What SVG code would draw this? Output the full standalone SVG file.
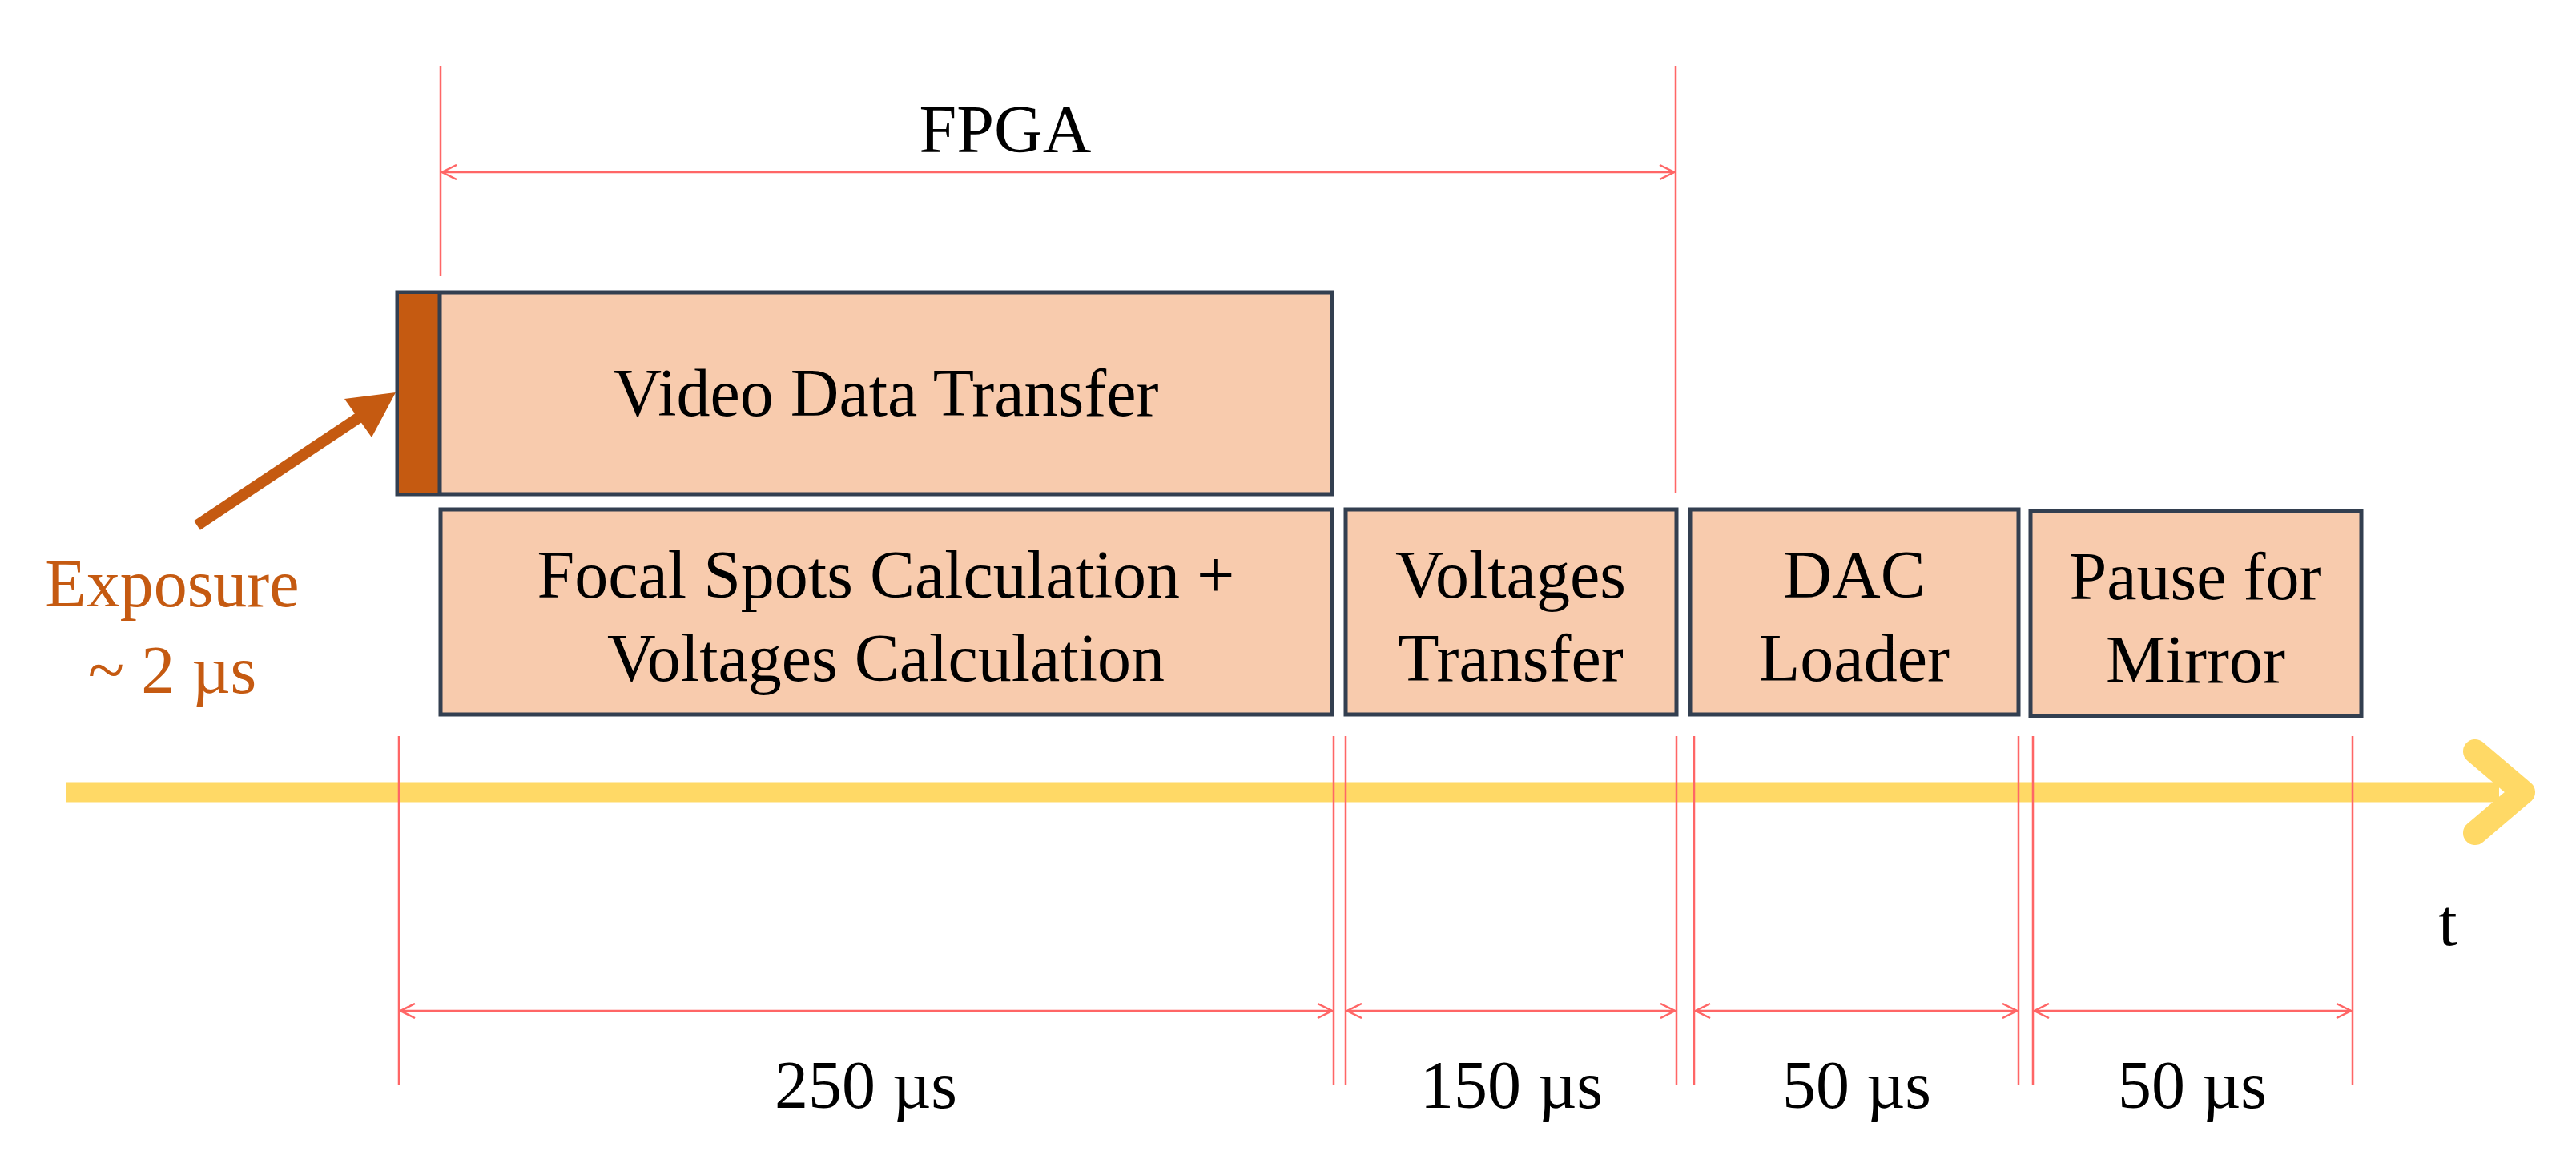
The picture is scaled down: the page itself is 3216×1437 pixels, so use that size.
<svg xmlns="http://www.w3.org/2000/svg" width="3216" height="1437" viewBox="0 0 3216 1437">
<style>
.box{fill:#F8CBAD;stroke:#333F50;stroke-width:5}
.red{stroke:#FF6666;stroke-width:2.5;fill:none}
.t{font-family:"Liberation Serif",serif;font-size:84px;fill:#000;text-anchor:middle}
</style>
<defs>
<marker id="oa" viewBox="0 0 20 20" refX="19" refY="10" markerWidth="20" markerHeight="20" markerUnits="userSpaceOnUse" orient="auto-start-reverse"><path d="M1,1 L19,10 L1,19" fill="none" stroke="#FF6666" stroke-width="2.5"/></marker>
</defs>
<rect width="3216" height="1437" fill="#fff"/>
<g id="axis">
<line x1="82" y1="989" x2="3120" y2="989" stroke="#FFD966" stroke-width="25"/>
<path d="M3090,938 L3150,989 L3090,1040" fill="none" stroke="#FFD966" stroke-width="30" stroke-linecap="round" stroke-linejoin="round"/>
<text class="t" x="3056" y="1180" font-size="110">t</text>
</g>
<g id="connectors">
<line class="red" x1="550" y1="82" x2="550" y2="345"/>
<line class="red" x1="2092" y1="82" x2="2092" y2="615"/>
<line class="red" x1="552" y1="215" x2="2090" y2="215" marker-start="url(#oa)" marker-end="url(#oa)"/>
<g>
<line class="red" x1="498" y1="919" x2="498" y2="1354"/>
<line class="red" x1="1665" y1="919" x2="1665" y2="1354"/>
<line class="red" x1="1680" y1="919" x2="1680" y2="1354"/>
<line class="red" x1="2093" y1="919" x2="2093" y2="1354"/>
<line class="red" x1="2115" y1="919" x2="2115" y2="1354"/>
<line class="red" x1="2520" y1="919" x2="2520" y2="1354"/>
<line class="red" x1="2538" y1="919" x2="2538" y2="1354"/>
<line class="red" x1="2937" y1="919" x2="2937" y2="1354"/>
</g>
<line class="red" x1="500" y1="1262" x2="1663" y2="1262" marker-start="url(#oa)" marker-end="url(#oa)"/>
<line class="red" x1="1682" y1="1262" x2="2091" y2="1262" marker-start="url(#oa)" marker-end="url(#oa)"/>
<line class="red" x1="2117" y1="1262" x2="2518" y2="1262" marker-start="url(#oa)" marker-end="url(#oa)"/>
<line class="red" x1="2540" y1="1262" x2="2935" y2="1262" marker-start="url(#oa)" marker-end="url(#oa)"/>
<line x1="246" y1="656" x2="462" y2="512" stroke="#C55A11" stroke-width="14"/>
<path d="M494,490 L430,498 L464,546 Z" fill="#C55A11"/>
</g>
<text class="t" x="1255" y="190">FPGA</text>
<g id="video">
<rect class="box" x="496" y="365" width="1167" height="252"/>
<rect x="498" y="367" width="50" height="248" fill="#C55A11"/>
<line x1="549" y1="365" x2="549" y2="617" stroke="#333F50" stroke-width="5"/>
<text class="t" x="1106" y="519">Video Data Transfer</text>
</g>
<g id="focal">
<rect class="box" x="550" y="636" width="1113" height="256"/>
<text class="t" x="1106" y="746">Focal Spots Calculation +</text>
<text class="t" x="1106" y="850">Voltages Calculation</text>
</g>
<g id="vtransfer">
<rect class="box" x="1680" y="636" width="413" height="256"/>
<text class="t" x="1886" y="746">Voltages</text>
<text class="t" x="1886" y="850">Transfer</text>
</g>
<g id="dac">
<rect class="box" x="2110" y="636" width="410" height="256"/>
<text class="t" x="2315" y="746">DAC</text>
<text class="t" x="2315" y="850">Loader</text>
</g>
<g id="pause">
<rect class="box" x="2535" y="638" width="413" height="256"/>
<text class="t" x="2741" y="748">Pause for</text>
<text class="t" x="2741" y="852">Mirror</text>
</g>
<g id="exposure">
<text class="t" x="215" y="757" fill="#C55A11" style="fill:#C55A11">Exposure</text>
<text class="t" x="215" y="865" style="fill:#C55A11">~ 2 µs</text>
</g>
<g id="labels">
<text class="t" x="1081" y="1383">250 µs</text>
<text class="t" x="1887" y="1383">150 µs</text>
<text class="t" x="2318" y="1383">50 µs</text>
<text class="t" x="2737" y="1383">50 µs</text>
</g>
</svg>
